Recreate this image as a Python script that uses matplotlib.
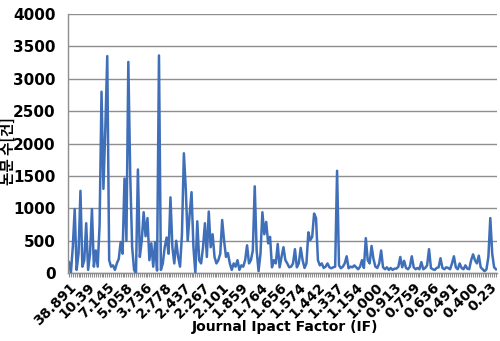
import numpy as np
import matplotlib.pyplot as plt
from matplotlib.ticker import MultipleLocator

# number of papers per journal, journals ordered by impact factor (high -> low)
papers = [
    170, 0, 400, 990, 50, 300, 1270, 100, 200, 770,
    50, 300, 990, 100, 350, 100, 750, 2800, 1300, 2250,
    3350, 200, 100, 120, 50, 150, 220, 480, 300, 1460,
    500, 3260, 1500, 400, 50, 0, 1600, 250, 500, 940,
    570, 850, 200, 460, 100, 480, 40, 3360, 50, 150,
    400, 550, 300, 1170, 400, 150, 500, 250, 100, 600,
    1850, 1300, 500, 900, 1250, 400, 0, 800, 200, 150,
    400, 770, 250, 950, 400, 600, 250, 150, 200, 300,
    820, 500, 250, 310, 150, 50, 150, 100, 200, 50,
    120, 100, 200, 430, 150, 200, 350, 1340, 350, 30,
    300, 940, 600, 790, 460, 560, 90, 200, 150, 450,
    90, 250, 400, 200, 150, 90, 100, 150, 370, 90,
    150, 390, 200, 80, 150, 630, 510, 560, 920, 850,
    200, 120, 150, 80, 100, 150, 90, 75, 90, 100,
    1580, 120, 75, 100, 150, 260, 75, 100, 90, 120,
    90, 60, 100, 200, 80, 540, 200, 150, 420, 220,
    100, 80, 150, 350, 90, 60, 90, 50, 80, 50,
    70, 70, 100, 250, 90, 190, 80, 60, 100, 260,
    90, 60, 80, 60, 170, 60, 80, 120, 370, 80,
    60, 50, 80, 90, 230, 80, 60, 90, 80, 60,
    150, 260, 90, 60, 150, 80, 60, 120, 70, 60,
    200, 290, 200, 150, 270, 90, 60, 30, 60, 250,
    850, 300, 90, 60,
]

# impact factor shown every 10th journal
if_labels = [
    '38.891', '10.39', '7.145', '5.058', '3.736', '2.778', '2.437', '2.267',
    '2.101', '1.859', '1.764', '1.656', '1.574', '1.442', '1.337', '1.154',
    '1.000', '0.913', '0.759', '0.636', '0.491', '0.400', '0.23',
]
label_step = 10

num_font = ['Liberation Sans Narrow', 'DejaVu Sans']
kor_font = ['Noto Sans CJK KR', 'Noto Sans CJK JP', 'Noto Sans CJK SC',
            'DejaVu Sans']

fig = plt.figure(figsize=(5.0, 3.41), dpi=100)
ax = fig.add_axes([0.136, 0.199, 0.858, 0.76])

x = np.arange(len(papers))
ax.plot(x, papers, color='#3f6fb9', lw=1.8, solid_joinstyle='round')

ax.set_xlim(-0.5, len(papers) - 0.5)
ax.set_ylim(0, 4000)
ax.yaxis.set_major_locator(MultipleLocator(500))
ax.grid(axis='y', color='#8e8e8e', lw=1.0)
ax.set_axisbelow(True)

ax.set_xticks(np.arange(len(if_labels)) * label_step)
ax.set_xticklabels(if_labels, rotation=45, ha='right', va='top',
                   rotation_mode='anchor', family=num_font,
                   fontweight='bold', fontsize=10)
ax.set_xticks(x, minor=True)
ax.tick_params(axis='x', which='both', length=3, width=0.8,
               color='#8e8e8e', pad=2)
ax.tick_params(axis='y', length=0, pad=9)
for lab in ax.get_yticklabels():
    lab.set_family(num_font)
    lab.set_fontweight('bold')
    lab.set_fontsize(11)

for side in ['top', 'right']:
    ax.spines[side].set_visible(False)
for side in ['left', 'bottom']:
    ax.spines[side].set_color('#8e8e8e')
    ax.spines[side].set_linewidth(1.0)

ax.set_ylabel('논문 수[건]', family=kor_font, fontweight='bold',
              fontsize=10.5)
ax.yaxis.set_label_coords(-0.122, 0.47)
fig.text(0.57, 0.04, 'Journal Ipact Factor (IF)', ha='center',
         va='center', family=num_font, fontweight='bold', fontsize=10)

fig.savefig('out.png', dpi=100)
